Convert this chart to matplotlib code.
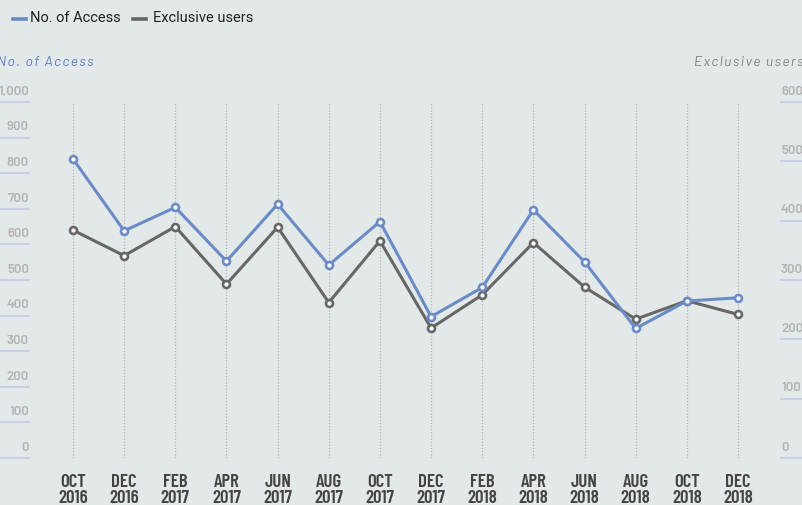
import matplotlib
matplotlib.use('Agg')
import matplotlib.pyplot as plt
import matplotlib.transforms as mtransforms
from matplotlib.lines import Line2D

months = ['OCT\n2016', 'DEC\n2016', 'FEB\n2017', 'APR\n2017', 'JUN\n2017', 'AUG\n2017', 'OCT\n2017',
          'DEC\n2017', 'FEB\n2018', 'APR\n2018', 'JUN\n2018', 'AUG\n2018', 'OCT\n2018', 'DEC\n2018']
access = [840, 638, 704, 553, 713, 542, 664, 397, 479, 697, 551, 364, 441, 450]
exclusive = [384, 341, 390, 293, 389, 262, 366, 219, 275, 363, 288, 234, 265, 242]
left_ticks = [0, 100, 200, 300, 400, 500, 600, 700, 800, 900, 1000]
right_ticks = [0, 100, 200, 300, 400, 500, 600]

BG = '#e3e8e8'
BLUE = '#6b8bc6'
GREY = '#676767'
TICK = '#b3b3b3'
ULINE = '#c3c9e6'
COND = ['Barlow Condensed', 'DejaVu Sans']
BARLOW = ['Barlow', 'DejaVu Sans']


def spaced(s):
    # loose tracking like the original axis titles
    return '  '.join('\u200a'.join(w) for w in s.split(' '))


W, H = 803, 505
fig = plt.figure(figsize=(W / 100, H / 100), dpi=100, facecolor=BG)

# axes covers full width; y from pixel 102 (top) to 458 (zero)
ax = fig.add_axes([0, (H - 458) / H, 1, 356 / H])
step = (738 - 73) / 13
ax.set_xlim(-73 / step, 13 + (W - 738) / step)
ax.set_ylim(0, 1000)
ax.axis('off')

ax2 = ax.twinx()
ax2.set_ylim(0, 600)
ax2.axis('off')

x = list(range(len(months)))

# dotted verticals
ax2.vlines(x, 0, 600, colors='#b4b4b4', linestyles=(0, (1, 1.5)), linewidth=0.9, zorder=1)

ax2.plot(x, exclusive, color=GREY, linewidth=2.2, marker='o', markersize=5,
         markerfacecolor='white', markeredgecolor=GREY, markeredgewidth=1.9, zorder=3)
ax.plot(x, access, color=BLUE, linewidth=2.2, marker='o', markersize=5,
        markerfacecolor='white', markeredgecolor=BLUE, markeredgewidth=1.9, zorder=4)
ax.set_zorder(ax2.get_zorder() + 1)
ax.patch.set_visible(False)
ax2.patch.set_visible(False)

# left axis labels with underlines
tl = mtransforms.blended_transform_factory(fig.transFigure, ax.transData)
for v in left_ticks:
    ax.plot([0, 29 / W], [v, v], transform=tl, color=ULINE, linewidth=1.2, clip_on=False)
    ax.text(29 / W, v + 12, f'{v:,}', transform=tl, ha='right', va='bottom',
            fontsize=9.5, fontweight=600, color=TICK, family=BARLOW)

tr = mtransforms.blended_transform_factory(fig.transFigure, ax2.transData)
for v in right_ticks:
    ax2.plot([781 / W, 1], [v, v], transform=tr, color=ULINE, linewidth=1.2, clip_on=False)
    ax2.text(781 / W, v + 7.2, f'{v:,}', transform=tr, ha='left', va='bottom',
             fontsize=9.5, fontweight=600, color=TICK, family=BARLOW)

# month labels
for i, m in enumerate(months):
    ax.text(i, -44, m, ha='center', va='top', fontsize=13.5, fontweight=600,
            color='#444444', family=COND, linespacing=0.92)

# axis titles
fig.text(-3 / W, 1 - 62 / H, spaced('No. of Access'), ha='left', va='center', fontsize=10,
         style='italic', color='#5b7dbf', family=BARLOW)
fig.text(804 / W, 1 - 62 / H, spaced('Exclusive users'), ha='right', va='center', fontsize=10,
         style='italic', color='#858585', family=BARLOW)

# legend
for x0, tx, col, lab in [(13, 30, BLUE, 'No. of Access'), (133, 153, GREY, 'Exclusive users')]:
    fig.add_artist(Line2D([x0 / W, (x0 + 13) / W], [1 - 19 / H] * 2, color=col,
                          linewidth=2.6, transform=fig.transFigure))
    fig.text(tx / W, 1 - 18 / H, lab, ha='left', va='center', fontsize=10.5,
             color='#222222', family=['Roboto', 'DejaVu Sans'])

fig.savefig('out.png', dpi=100, facecolor=BG)
